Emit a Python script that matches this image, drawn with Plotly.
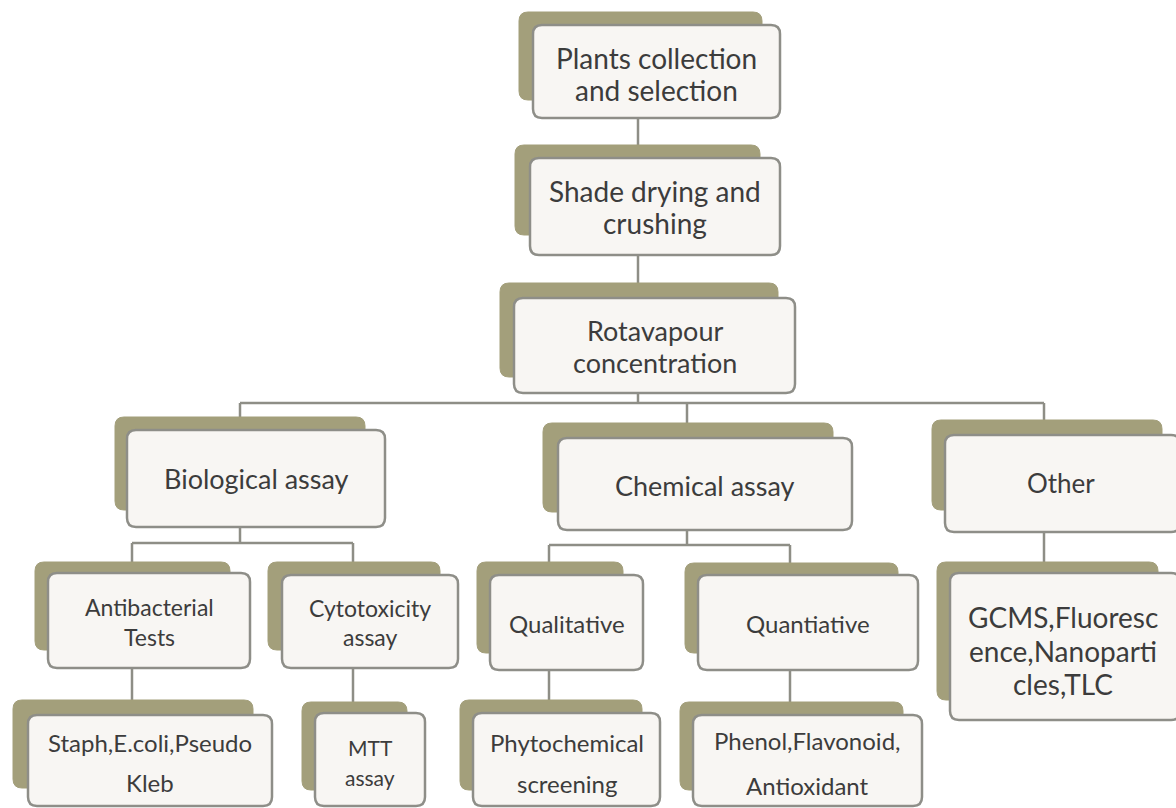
import plotly.graph_objects as go

# ---- content ----
node_ids = ["plants", "shade", "rota", "bio", "chem", "other",
            "antib", "cyto", "qual", "quant",
            "staph", "mtt", "phyto", "phenol", "gcms"]
node_lines = [
    ["Plants collection", "and selection"],
    ["Shade drying and", "crushing"],
    ["Rotavapour", "concentration"],
    ["Biological assay"],
    ["Chemical assay"],
    ["Other"],
    ["Antibacterial", "Tests"],
    ["Cytotoxicity", "assay"],
    ["Qualitative"],
    ["Quantiative"],
    ["Staph,E.coli,Pseudo", "Kleb"],
    ["MTT", "assay"],
    ["Phytochemical", "screening"],
    ["Phenol,Flavonoid,", "Antioxidant"],
    ["GCMS,Fluoresc", "ence,Nanoparti", "cles,TLC"],
]
node_parent = [None, "plants", "shade", "rota", "rota", "rota",
               "bio", "bio", "chem", "chem",
               "antib", "cyto", "qual", "quant", "other"]

# ---- layout (pixel space, y downwards) ----
# box: light front box; shadow: olive back box; ty: text line y; fs: font size
LAYOUT = {
    "plants": dict(shadow=(519, 12, 762, 100), box=(533, 25, 780, 118), ty=[58, 90], fs=28),
    "shade":  dict(shadow=(515, 145, 760, 235), box=(530, 158, 780, 255), ty=[191, 223], fs=28),
    "rota":   dict(shadow=(500, 283, 778, 377), box=(514, 298, 795, 393), ty=[330, 362], fs=27),
    "bio":    dict(shadow=(115, 417, 365, 510), box=(127, 430, 385, 527), ty=[478], fs=27),
    "chem":   dict(shadow=(543, 423, 833, 512), box=(558, 438, 852, 530), ty=[485], fs=27),
    "other":  dict(shadow=(932, 420, 1162, 510), box=(945, 435, 1180, 532), ty=[483], fs=26),
    "antib":  dict(shadow=(35, 562, 230, 650), box=(48, 573, 250, 668), ty=[607, 637], fs=23),
    "cyto":   dict(shadow=(268, 562, 440, 650), box=(282, 575, 458, 668), ty=[608, 637], fs=23),
    "qual":   dict(shadow=(477, 562, 623, 653), box=(490, 575, 643, 670), ty=[623], fs=24),
    "quant":  dict(shadow=(685, 563, 898, 653), box=(698, 575, 918, 670), ty=[623], fs=24),
    "staph":  dict(shadow=(13, 700, 253, 788), box=(28, 715, 272, 806), ty=[742, 782], fs=24),
    "mtt":    dict(shadow=(302, 702, 407, 790), box=(315, 713, 425, 806), ty=[747, 777], fs=21),
    "phyto":  dict(shadow=(460, 700, 642, 790), box=(473, 713, 660, 806), ty=[742, 783], fs=24),
    "phenol": dict(shadow=(680, 702, 903, 790), box=(693, 715, 922, 806), ty=[740, 785], fs=24),
    "gcms":   dict(shadow=(937, 562, 1158, 700), box=(950, 573, 1180, 720), ty=[617, 651, 684], fs=28),
}

# connector ports: x of the stem below each parent, y of the bus
PORT_X = {"plants": 638, "shade": 638, "rota": 638, "bio": 240, "chem": 687,
          "other": 1044, "antib": 132, "cyto": 353, "qual": 549, "quant": 790}
DROP_X = {"shade": 638, "rota": 638, "bio": 240, "chem": 687, "other": 1044,
          "antib": 132, "cyto": 353, "qual": 549, "quant": 790,
          "staph": 132, "mtt": 353, "phyto": 549, "phenol": 790, "gcms": 1044}
BUS_Y = {"rota": 403, "bio": 543, "chem": 545}

SHADOW_COL = "#a39f7b"
BOX_FILL = "#f8f6f3"
BOX_LINE = "#8e8e88"
CONN_COL = "#8e8e86"
TEXT_COL = "#3c3c3c"
FONT = "Lato, 'Open Sans', sans-serif"


def rrect(x0, y0, x1, y1, r=8):
    return (f"M {x0+r},{y0} L {x1-r},{y0} Q {x1},{y0} {x1},{y0+r} "
            f"L {x1},{y1-r} Q {x1},{y1} {x1-r},{y1} L {x0+r},{y1} "
            f"Q {x0},{y1} {x0},{y1-r} L {x0},{y0+r} Q {x0},{y0} {x0+r},{y0} Z")


shapes = []
annotations = []

# connectors
children = {}
for nid, par in zip(node_ids, node_parent):
    if par is not None:
        children.setdefault(par, []).append(nid)


def line(x0, y0, x1, y1):
    shapes.append(dict(type="line", xref="x", yref="y", x0=x0, y0=y0, x1=x1, y1=y1,
                       line=dict(color=CONN_COL, width=2.5), layer="below"))


for par, kids in children.items():
    px = PORT_X[par]
    pbot = LAYOUT[par]["box"][3]
    if len(kids) == 1:
        k = kids[0]
        line(px, pbot, DROP_X[k], LAYOUT[k]["shadow"][1])
    else:
        by = BUS_Y[par]
        line(px, pbot, px, by)
        xs = [DROP_X[k] for k in kids]
        line(min(xs), by, max(xs), by)
        for k in kids:
            line(DROP_X[k], by, DROP_X[k], LAYOUT[k]["shadow"][1] + 2)

# boxes
for nid, lines_ in zip(node_ids, node_lines):
    L = LAYOUT[nid]
    shapes.append(dict(type="path", xref="x", yref="y", path=rrect(*L["shadow"], r=9),
                       fillcolor=SHADOW_COL, line=dict(color=SHADOW_COL, width=1)))
    shapes.append(dict(type="path", xref="x", yref="y", path=rrect(*L["box"], r=9),
                       fillcolor=BOX_FILL, line=dict(color=BOX_LINE, width=2.5)))
    cx = (L["box"][0] + min(L["box"][2], 1176)) / 2
    for txt, ty in zip(lines_, L["ty"]):
        annotations.append(dict(x=cx, y=ty, xref="x", yref="y", text=txt, showarrow=False,
                                xanchor="center", yanchor="middle",
                                font=dict(family=FONT, size=L["fs"], color=TEXT_COL)))

fig = go.Figure()
fig.add_trace(go.Scatter(x=[0, 1176], y=[0, 808], mode="markers",
                         marker=dict(opacity=0), hoverinfo="skip", showlegend=False))
fig.update_layout(
    width=1176, height=808,
    margin=dict(l=0, r=0, t=0, b=0),
    paper_bgcolor="white", plot_bgcolor="white",
    xaxis=dict(range=[0, 1176], visible=False, fixedrange=True),
    yaxis=dict(range=[808, 0], visible=False, fixedrange=True),
    shapes=shapes, annotations=annotations, showlegend=False,
)
fig.write_html("out.html", config={"displayModeBar": False},
               post_script="document.body.style.margin='0';document.body.style.overflow='hidden';")
